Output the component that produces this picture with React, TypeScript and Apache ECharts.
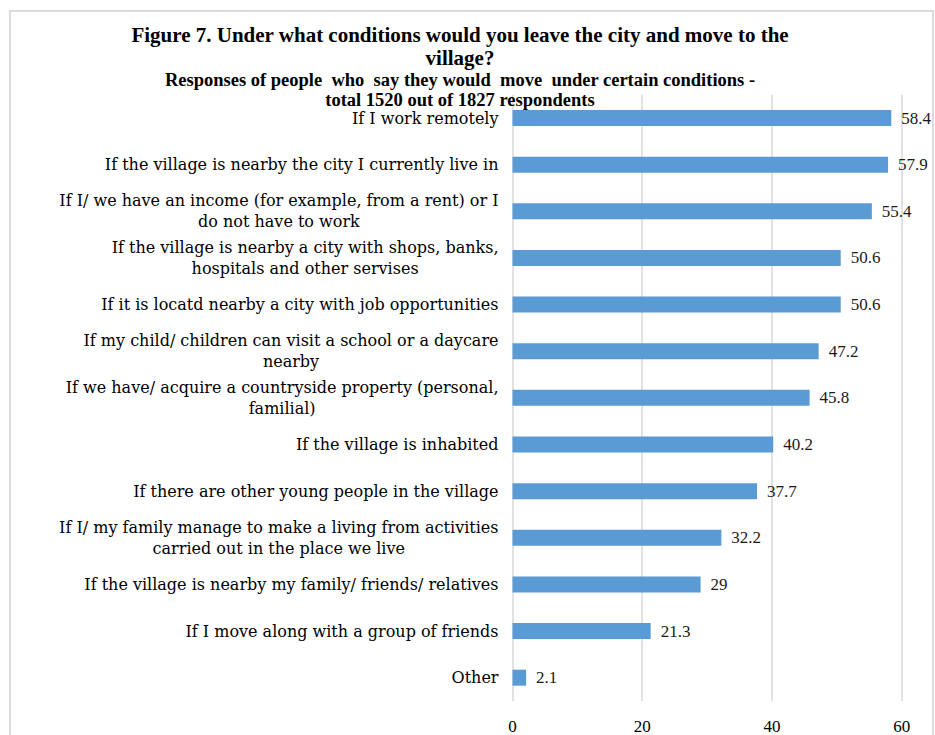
import React, { useEffect, useRef } from "react";
import * as echarts from "echarts";

const titleText = "Figure 7. Under what conditions would you leave the city and move to the\nvillage?";
const subtitleText = "Responses of people  who  say they would  move  under certain conditions -\ntotal 1520 out of 1827 respondents";

const categories = [
  "If I work remotely",
  "If the village is nearby the city I currently live in",
  "If I/ we have an income (for example, from a rent) or I\ndo not have to work",
  "If the village is nearby a city with shops, banks,\nhospitals and other servises",
  "If it is locatd nearby a city with job opportunities",
  "If my child/ children can visit a school or a daycare\nnearby",
  "If we have/ acquire a countryside property (personal,\nfamilial)",
  "If the village is inhabited",
  "If there are other young people in the village",
  "If I/ my family manage to make a living from activities\ncarried out in the place we live",
  "If the village is nearby my family/ friends/ relatives",
  "If I move along with a group of friends",
  "Other",
];

const values = [58.4, 57.9, 55.4, 50.6, 50.6, 47.2, 45.8, 40.2, 37.7, 32.2, 29, 21.3, 2.1];

const xMin = 0;
const xMax = 60;
const xInterval = 20;

const SERIF = "'Liberation Serif', 'Times New Roman', serif";
const WIDE_SERIF = "'DejaVu Serif', serif";

export default function App() {
  const ref = useRef<HTMLDivElement>(null);

  useEffect(() => {
    if (!ref.current) return;
    document.body.style.margin = "0";
    const chart = echarts.init(ref.current, null, { renderer: "svg" });
    chart.setOption({
      animation: false,
      backgroundColor: "#ffffff",
      title: [
        {
          text: titleText,
          left: 460,
          top: 23,
          textAlign: "center",
          padding: 0,
          textStyle: {
            fontFamily: SERIF,
            fontSize: 21,
            fontWeight: "bold",
            color: "#000000",
            lineHeight: 23,
          },
        },
        {
          text: subtitleText,
          left: 460,
          top: 70,
          textAlign: "center",
          padding: 0,
          textStyle: {
            fontFamily: SERIF,
            fontSize: 18.5,
            fontWeight: "bold",
            color: "#000000",
            lineHeight: 20,
          },
        },
      ],
      graphic: [
        {
          type: "rect",
          z: -10,
          shape: { x: 10, y: 11, width: 923, height: 760 },
          style: { fill: "none", stroke: "#dcdcdc", lineWidth: 2 },
        },
      ],
      grid: {
        left: 512.5,
        right: 33.3,
        top: 94.7,
        bottom: 33.7,
        containLabel: false,
      },
      xAxis: {
        type: "value",
        min: xMin,
        max: xMax,
        interval: xInterval,
        axisLine: { show: false },
        axisTick: { show: false },
        axisLabel: {
          fontFamily: SERIF,
          fontSize: 17,
          color: "#000000",
          margin: 17,
        },
        splitLine: { show: true, lineStyle: { color: "#d9d9d9", width: 1.5 } },
      },
      yAxis: {
        type: "category",
        data: categories,
        inverse: true,
        axisLine: { show: false },
        axisTick: { show: false },
        axisLabel: {
          margin: 14,
          align: "right",
          formatter: (v: string, idx: number) => {
            const tag = idx === 0 ? "s" : "c";
            return v
              .split("\n")
              .map((l) => `{${tag}|${l}}`)
              .join("\n");
          },
          rich: {
            c: {
              fontFamily: WIDE_SERIF,
              fontSize: 16,
              color: "#000000",
              lineHeight: 21,
              align: "center",
            },
            s: {
              fontFamily: WIDE_SERIF,
              fontSize: 16,
              color: "#000000",
              lineHeight: 16,
              align: "center",
            },
          },
        },
      },
      series: [
        {
          type: "bar",
          data: values,
          barWidth: 16,
          itemStyle: { color: "#5b9bd5" },
          label: {
            show: true,
            position: "right",
            distance: 10,
            fontFamily: SERIF,
            fontSize: 17,
            color: "#1a1a1a",
          },
        },
      ],
    });
    return () => chart.dispose();
  }, []);

  return (
    <div
      ref={ref}
      style={{ position: "fixed", left: 0, top: 0, width: 935, height: 735 }}
    />
  );
}
